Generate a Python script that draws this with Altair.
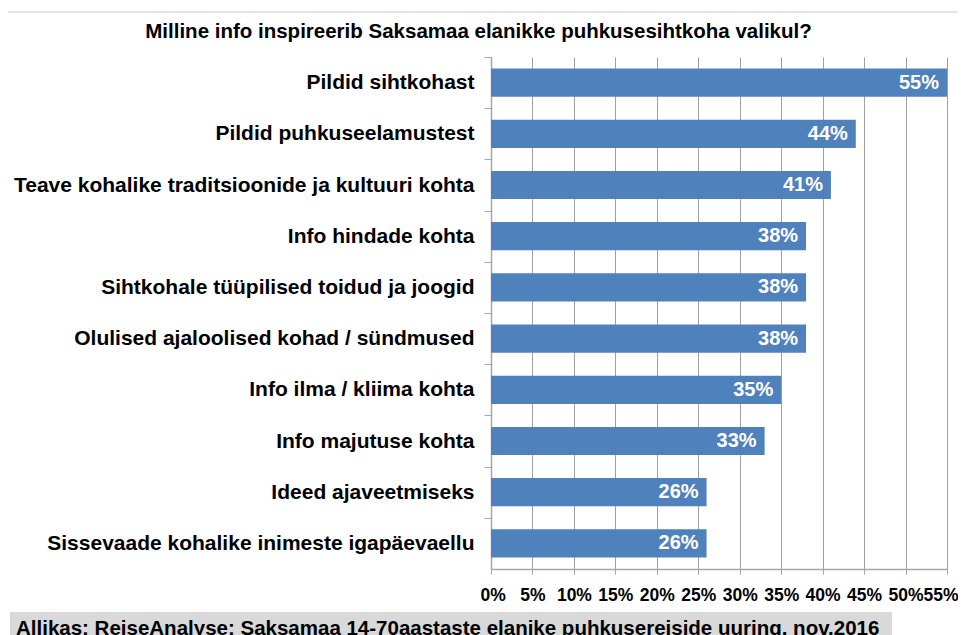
import altair as alt
import pandas as pd

categories = [
    "Pildid sihtkohast",
    "Pildid puhkuseelamustest",
    "Teave kohalike traditsioonide ja kultuuri kohta",
    "Info hindade kohta",
    "Sihtkohale tüüpilised toidud ja joogid",
    "Olulised ajaloolised kohad / sündmused",
    "Info ilma / kliima kohta",
    "Info majutuse kohta",
    "Ideed ajaveetmiseks",
    "Sissevaade kohalike inimeste igapäevaellu",
]
values = [55, 44, 41, 38, 38, 38, 35, 33, 26, 26]
x_ticks = [0, 5, 10, 15, 20, 25, 30, 35, 40, 45, 50, 55]
title_text = "Milline info inspireerib Saksamaa elanikke puhkusesihtkoha valikul?"
source_text = "Allikas: ReiseAnalyse: Saksamaa 14-70aastaste elanike puhkusereiside uuring, nov.2016"

df = pd.DataFrame({
    "category": categories,
    "value": values,
    "label": [f"{v}%" for v in values],
})
ann = pd.DataFrame({"title": [title_text], "source": [source_text]})

W, H = 456, 512
FONT = "Liberation Sans"
STEP = H / 10.0
AXIS_GRAY = "#a6a6a6"
BAR_BLUE = "#4F81BD"

y_enc = alt.Y(
    "category:N",
    sort=categories,
    scale=alt.Scale(paddingInner=0.45, paddingOuter=0.225),
    axis=alt.Axis(
        title=None,
        labelFont=FONT,
        labelFontSize=21,
        labelFontWeight="bold",
        labelColor="black",
        labelPadding=10,
        labelLimit=700,
        tickSize=7,
        tickColor=AXIS_GRAY,
        domainColor=AXIS_GRAY,
        domainWidth=1.5,
        tickOffset=-STEP / 2,
        labelOffset=STEP / 2,
    ),
)
x_enc = alt.X(
    "value:Q",
    scale=alt.Scale(domain=[0, 55], nice=False),
    axis=alt.Axis(
        title=None,
        values=x_ticks,
        labelExpr="datum.value + '%'",
        labelOverlap=False,
        labelFlush=True,
        labelFlushOffset=11,
        grid=True,
        gridColor="#a0a0a0",
        gridWidth=1,
        tickSize=5,
        tickColor=AXIS_GRAY,
        domainColor=AXIS_GRAY,
        domainWidth=1.5,
        labelFont=FONT,
        labelFontSize=17.5,
        labelFontWeight="bold",
        labelColor="black",
        labelPadding=12,
    ),
)

border = alt.Chart(ann).mark_rect(filled=False, stroke="#c8c8c8", strokeWidth=1).encode(
    x=alt.value(-484), x2=alt.value(490), y=alt.value(-45), y2=alt.value(660)
)
footer_box = alt.Chart(ann).mark_rect(color="#d9d9d9").encode(
    x=alt.value(-481), x2=alt.value(401), y=alt.value(555), y2=alt.value(600)
)
bars = alt.Chart(df).mark_bar(color=BAR_BLUE).encode(x=x_enc, y=y_enc)
labels = alt.Chart(df).mark_text(
    align="right", baseline="middle", dx=-8, color="white",
    font=FONT, fontSize=20, fontWeight="bold",
).encode(x="value:Q", y=alt.Y("category:N", sort=categories), text="label:N")
title = alt.Chart(ann).mark_text(
    align="center", baseline="alphabetic", color="black",
    font=FONT, fontSize=20.5, fontWeight="bold",
).encode(x=alt.value(-12.5), y=alt.value(-19.3), text="title:N")
footer = alt.Chart(ann).mark_text(
    align="left", baseline="alphabetic", color="black",
    font=FONT, fontSize=20.5, fontWeight="bold",
).encode(x=alt.value(-475), y=alt.value(578.3), text="source:N")

chart = alt.layer(border, footer_box, bars, labels, title, footer).properties(
    width=W,
    height=H,
    autosize=alt.AutoSizeParams(type="none"),
    padding={"left": 483, "top": 49, "right": 11, "bottom": 66},
).configure_view(stroke=None)

chart.save("out.html", embed_options={"renderer": "svg", "actions": False})
